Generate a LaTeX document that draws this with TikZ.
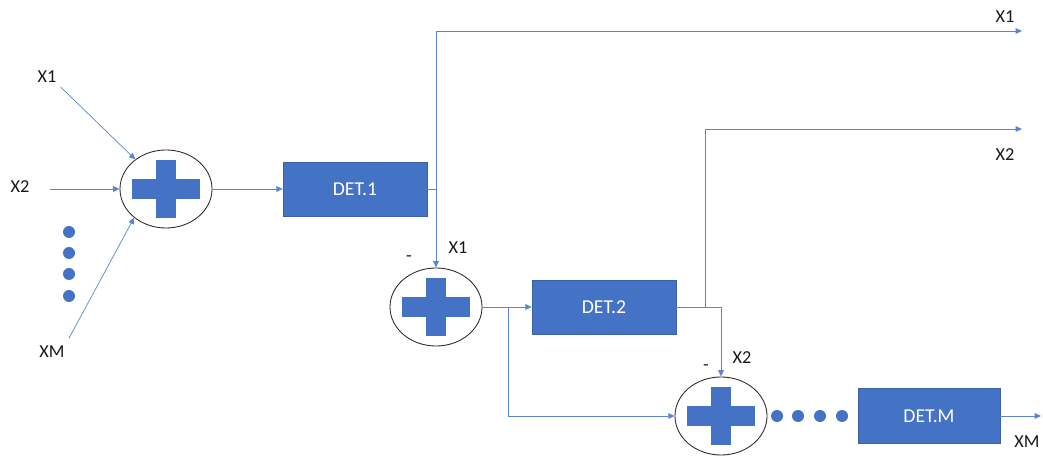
\documentclass[tikz,border=0pt]{standalone}
\usepackage{fontspec}
\setmainfont{Carlito}
\usetikzlibrary{shapes.geometric,arrows.meta}
\definecolor{detblue}{HTML}{4472C4}
\definecolor{wireblue}{HTML}{5A86D0}

\begin{document}
\begin{tikzpicture}[x=0.025cm, y=-0.025cm,
        wire/.style={wireblue, line width=0.5pt},
        arr/.style={wire, -{Triangle[length=4.5pt,width=4pt]}},
        sum/.style={ellipse, draw=black!85, line width=0.6pt, inner sep=0pt,
            minimum width=2.3cm, minimum height=1.95cm,
            path picture={
                \fill[detblue] ([xshift=-0.85cm, yshift=-0.24cm]path picture bounding box.center) rectangle ++(1.7cm, 0.48cm);
                \fill[detblue] ([xshift=-0.24cm, yshift=-0.73cm]path picture bounding box.center) rectangle ++(0.48cm, 1.46cm);
            }},
        det/.style={rectangle, fill=detblue, draw=detblue!85!black, line width=0.3pt,
            text=white, minimum width=3.6cm, minimum height=1.35cm, font=\fontsize{14}{16}\selectfont},
        lbl/.style={text=black!90, inner sep=0pt, font=\fontsize{13}{15}\selectfont},
        dot/.style={circle, fill=detblue, minimum size=0.3cm, inner sep=0pt}]
                \useasboundingbox (0, 0) rectangle (1043, 457);
                % Inputs
                \node[lbl] (in1) at (47, 77) {X1};
                \node[lbl] (in2) at (20, 187) {X2};
                \node[lbl] (inM) at (52, 352) {XM};
                \foreach \i/\y in {1/232, 2/253, 3/274, 4/296}
                    \node[dot] (v\i) at (69, \y) {};
                % Stage 1
                \node[sum] (s1) at (166, 189) {};
                \node[det] (d1) at (355, 189) {DET.1};
                \draw[arr, shorten <=4pt] (in1.south east) -- (s1.136);
                \draw[arr, shorten <=0.5cm] (in2.east |- s1.west) -- (s1.west);
                \draw[arr, shorten <=6pt] (inM.north east) -- (s1.222);
                \draw[arr] (s1.east) -- (d1.west);
                % Stage 2
                \node[sum] (s2) at (436, 307) {};
                \node[det] (d2) at (604, 307) {DET.2};
                \node[lbl] (x1b) at (458, 248) {X1};
                \node[lbl] (m2) at (409, 259) {-};
                \coordinate (j1) at (d1.east -| s2.north);
                \coordinate (o1) at (1022, 31);
                \node[lbl] (out1) at (1005, 17) {X1};
                \draw[wire] (d1.east) -- (j1);
                \draw[arr] (j1) -- (s2.north);
                \draw[arr] (j1) |- (o1);
                \draw[arr] (s2.east) -- (d2.west);
                % Stage M
                \node[sum] (s3) at (721, 416) {};
                \node[det, minimum width=3.55cm, minimum height=1.375cm] (dM) at (929, 416) {DET.M};
                \node[lbl] (x2b) at (742, 358) {X2};
                \node[lbl] (m3) at (706, 368) {-};
                \foreach \i/\x in {1/777, 2/798, 3/820, 4/842}
                    \node[dot] (w\i) at (\x, 416) {};
                \coordinate (b2) at (508, 307);
                \draw[arr] (b2) |- (s3.west);
                \coordinate (j2) at (d2.east -| s3.north);
                \coordinate (k2) at (705, 307);
                \coordinate (o2) at (1022, 129);
                \node[lbl] (out2) at (1005, 155) {X2};
                \draw[wire] (d2.east) -- (j2);
                \draw[arr] (j2) -- (s3.north);
                \draw[arr] (k2) |- (o2);
                \coordinate (o3) at (1041, 416);
                \node[lbl] (outM) at (1027, 442) {XM};
                \draw[arr] (dM.east) -- (o3);
            \end{tikzpicture}
\end{document}
